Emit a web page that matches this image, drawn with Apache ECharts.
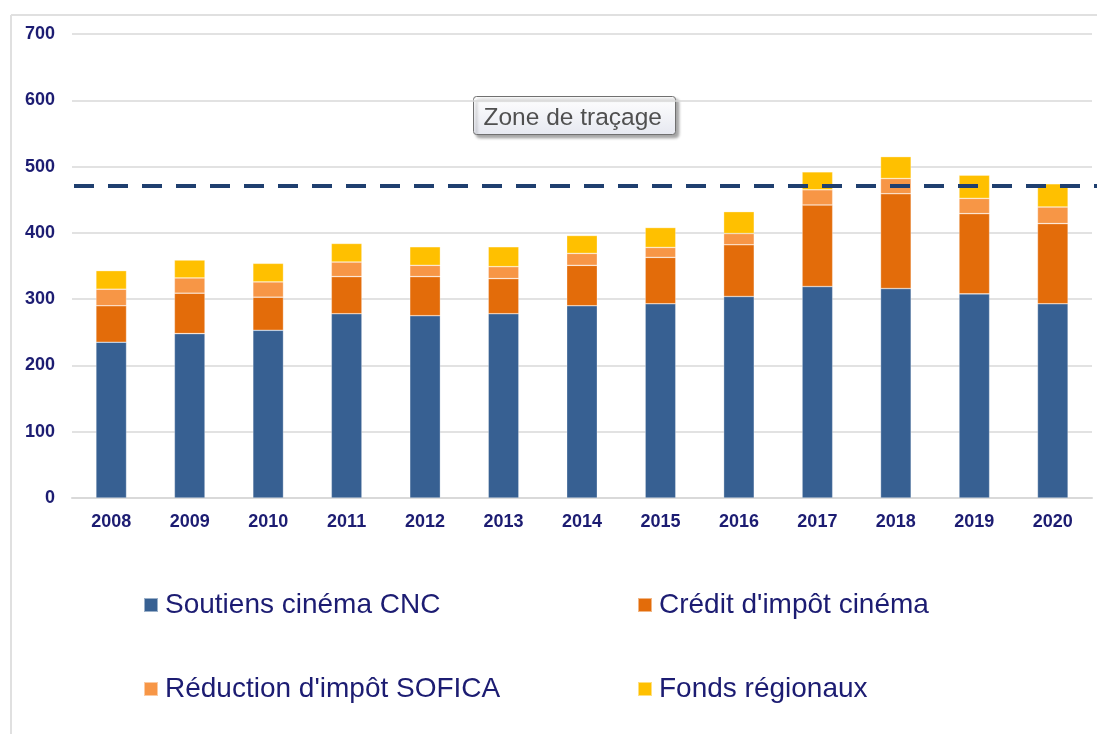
<!DOCTYPE html>
<html>
<head>
<meta charset="utf-8">
<script src="https://cdn.jsdelivr.net/npm/echarts@6/dist/echarts.min.js"></script>
<style>
html,body{margin:0;padding:0;background:#fff;}
#main{width:1097px;height:734px;}
</style>
</head>
<body>
<div id="main"></div>
<script>
const years = ['2008','2009','2010','2011','2012','2013','2014','2015','2016','2017','2018','2019','2020'];
const soutiensCNC = [235, 248, 253, 278, 275, 278, 290, 293, 304, 319, 316, 308, 293];
const creditImpot = [55, 61, 50, 56, 59, 53, 61, 70, 78, 123, 143, 121, 121];
const reductionSofica = [25, 23, 23, 22, 17, 18, 18, 15, 17, 23, 23, 23, 25];
const fondsRegionaux = [28, 27, 28, 28, 28, 30, 27, 30, 33, 27, 33, 35, 35];
const referenceLine = 471;
const yTicks = [0, 100, 200, 300, 400, 500, 600, 700];
const seriesNames = ['Soutiens cinéma CNC', "Crédit d'impôt cinéma", "Réduction d'impôt SOFICA", 'Fonds régionaux'];
const tooltipText = 'Zone de traçage';

const colors = ['#376092', '#e36c0a', '#f79646', '#ffc000'];
const navy = '#1c1c72';

const chart = echarts.init(document.getElementById('main'), null, {renderer: 'canvas'});
const dataArrays = [soutiensCNC, creditImpot, reductionSofica, fondsRegionaux];

const series = dataArrays.map((arr, i) => ({
  name: seriesNames[i],
  type: 'bar',
  stack: 'total',
  data: arr,
  barWidth: '39%',
  itemStyle: {color: colors[i], borderColor: 'rgba(255,255,255,0.5)', borderWidth: 0.6},
  emphasis: {disabled: true}
}));
series[3].markLine = {
  silent: true,
  symbol: ['none', 'none'],
  label: {show: false},
  lineStyle: {color: '#1f3f6f', width: 4, type: [20, 14]},
  data: [[{yAxis: referenceLine, x: 74}, {x: 1097, yAxis: referenceLine}]]
};

const legendText = {color: navy, fontFamily: 'Liberation Sans, Arial', fontSize: 28, padding: [0, 0, 0, 2]};

const option = {
  animation: false,
  backgroundColor: '#fff',
  grid: {left: 72, right: 5, top: 34, height: 464, containLabel: false},
  xAxis: {
    type: 'category',
    data: years,
    axisLine: {show: true, lineStyle: {color: '#d9d9d9', width: 2}},
    axisTick: {show: false},
    axisLabel: {color: navy, fontFamily: 'Liberation Sans, Arial', fontWeight: 'bold', fontSize: 18, margin: 15}
  },
  yAxis: {
    type: 'value',
    min: 0, max: 700, interval: 100,
    axisLine: {show: false},
    axisTick: {show: false},
    splitLine: {lineStyle: {color: '#d9d9d9', width: 1.5}},
    axisLabel: {color: navy, fontFamily: 'Liberation Sans, Arial', fontWeight: 'bold', fontSize: 18, margin: 17,
      formatter: v => yTicks.includes(v) ? String(v) : ''}
  },
  legend: [
    {
      data: [seriesNames[0], seriesNames[2]],
      orient: 'vertical', left: 143, top: 591, itemGap: 56, padding: 0,
      icon: 'rect', itemWidth: 14, itemHeight: 14,
      textStyle: legendText,
      selectedMode: false
    },
    {
      data: [seriesNames[1], seriesNames[3]],
      orient: 'vertical', left: 637, top: 591, itemGap: 56, padding: 0,
      icon: 'rect', itemWidth: 14, itemHeight: 14,
      textStyle: legendText,
      selectedMode: false
    }
  ],
  graphic: [
    {type: 'line', shape: {x1: 11, y1: 15, x2: 1097, y2: 15}, style: {stroke: '#e0e0e0', lineWidth: 2}, silent: true},
    {type: 'line', shape: {x1: 11, y1: 15, x2: 11, y2: 734}, style: {stroke: '#e0e0e0', lineWidth: 2}, silent: true},
    {
      type: 'group', left: 473, top: 96, z: 100,
      children: [
        {type: 'rect', shape: {x: 0, y: 0, width: 202, height: 38, r: 3},
          style: {
            fill: new echarts.graphic.LinearGradient(0, 0, 0, 1, [{offset: 0, color: '#ffffff'}, {offset: 1, color: '#e6e8f0'}]),
            stroke: '#707070', lineWidth: 1,
            shadowBlur: 3, shadowOffsetX: 3, shadowOffsetY: 3, shadowColor: 'rgba(0,0,0,0.35)'
          }},
        {type: 'text', x: 10, y: 9, style: {text: tooltipText, fill: '#505050', font: '24.5px "Liberation Sans", Arial'}}
      ]
    }
  ],
  series: series
};
chart.setOption(option);
</script>
</body>
</html>
